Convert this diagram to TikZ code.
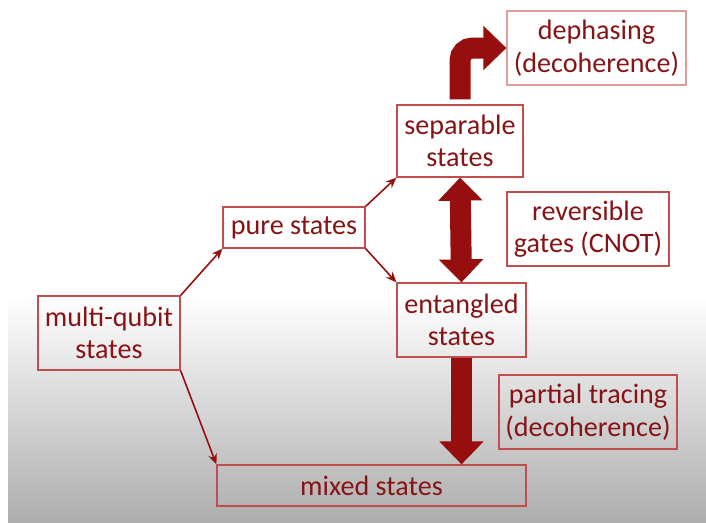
\documentclass[tikz,border=0pt]{standalone}
\usepackage{fontspec}
\setmainfont{Carlito}
\usepackage{tikz}
\usetikzlibrary{arrows.meta}

\definecolor{textred}{RGB}{134,20,22}
\definecolor{boxred}{RGB}{192,78,76}
\definecolor{arrowred}{RGB}{150,14,14}

\begin{document}
\begin{tikzpicture}[
    nd/.style={draw=boxred, line width=0.7pt, text=textred, align=center, inner sep=2pt, font=\fontsize{16}{18.5}\selectfont},
    statebox/.style={nd},
    procbox/.style={nd},
    thin/.style={->, >={Stealth[length=6pt, width=5pt]}, line width=0.9pt, arrowred},
    bigarr/.style={line width=0.42cm, arrowred, -{Triangle[length=0.46cm, width=0.86cm]}},
]

% Background
\useasboundingbox (0,0) rectangle (14.12,-10.44);
\fill[white] (0,0) rectangle (14.12,-10.44);
\shade[top color=white, bottom color=black!32] (0.16,-5.9) rectangle (14.12,-10.44);

% States
\node[statebox, minimum width=2.84cm, minimum height=1.48cm] (multi) at (2.18, -6.66) {multi-qubit\\states};
\node[statebox, minimum width=2.84cm, minimum height=0.82cm] (pure) at (5.88, -4.55) {pure states};
\node[statebox, minimum width=2.52cm, minimum height=1.44cm] (sep) at (9.20, -2.82) {separable\\states};
\node[statebox, minimum width=2.58cm, minimum height=1.48cm] (ent) at (9.23, -6.40) {entangled\\states};
\node[statebox, minimum width=6.18cm, minimum height=0.82cm] (mixed) at (7.43, -9.71) {mixed states};

% Processes
\node[procbox, draw=boxred!55, minimum width=3.58cm, minimum height=1.48cm] (deph) at (11.93, -0.96) {dephasing\\(decoherence)};
\node[procbox, minimum width=3.24cm, minimum height=1.48cm] (rev) at (11.76, -4.58) {reversible\\gates (CNOT)};
\node[procbox, minimum width=3.56cm, minimum height=1.48cm] (trace) at (11.76, -8.24) {partial tracing\\(decoherence)};

% === ARROWS ===
\draw[thin] (multi.north east) -- (pure.south west);
\draw[thin] (multi.south east) -- (mixed.north west);
\draw[thin] (pure.north east) -- (sep.south west);
\draw[thin] (pure.south east) -- (ent.north west);

% big arrows
\draw[bigarr, rounded corners=0.25cm] ([yshift=0.1cm]sep.north) |- (deph.west);
\draw[bigarr, {Triangle[length=0.46cm, width=0.86cm]}-{Triangle[length=0.46cm, width=0.86cm]}] (sep.south) -- (ent.north);
\draw[bigarr] (ent.south) -- (ent.south |- mixed.north);

\end{tikzpicture}
\end{document}
